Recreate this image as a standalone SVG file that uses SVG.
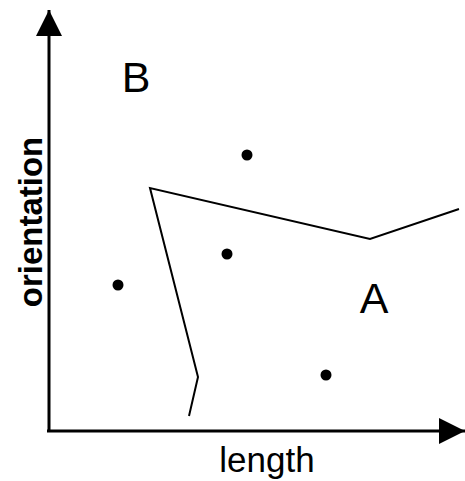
<svg xmlns="http://www.w3.org/2000/svg" width="465" height="481" viewBox="0 0 465 481">
<style>
.axis{stroke:#000;stroke-width:3;fill:none}
.bound{stroke:#000;stroke-width:2;fill:none}
.pt{fill:#000}
.lbl{font-family:"Liberation Sans",Arial,sans-serif;fill:#000}
</style>
<defs>
<marker id="arr" viewBox="0 0 26 26" refX="26" refY="13" markerWidth="26" markerHeight="26" markerUnits="userSpaceOnUse" orient="auto">
<path d="M0,0 L26,13 L0,26 Z" fill="#000"/>
</marker>
</defs>
<rect width="465" height="481" fill="#fff"/>
<g id="connectors">
<line class="axis" x1="49" y1="431" x2="49" y2="10" marker-end="url(#arr)"/>
<line class="axis" x1="47" y1="431" x2="465" y2="431" marker-end="url(#arr)"/>
<polyline class="bound" points="189,416 198,377 150,188 370,239 459,209"/>
</g>
<g id="points">
<circle class="pt" cx="247" cy="155" r="5.5"/>
<circle class="pt" cx="227" cy="254" r="5.5"/>
<circle class="pt" cx="118" cy="285" r="5.5"/>
<circle class="pt" cx="326" cy="375" r="5.5"/>
</g>
<g id="labels">
<text class="lbl" x="136" y="92" font-size="43" text-anchor="middle">B</text>
<text class="lbl" x="374" y="313" font-size="43" text-anchor="middle">A</text>
<text class="lbl" x="267" y="472" font-size="35" text-anchor="middle">length</text>
<text class="lbl" transform="translate(42,222) rotate(-90)" font-size="33" font-weight="bold" text-anchor="middle">orientation</text>
</g>
</svg>
